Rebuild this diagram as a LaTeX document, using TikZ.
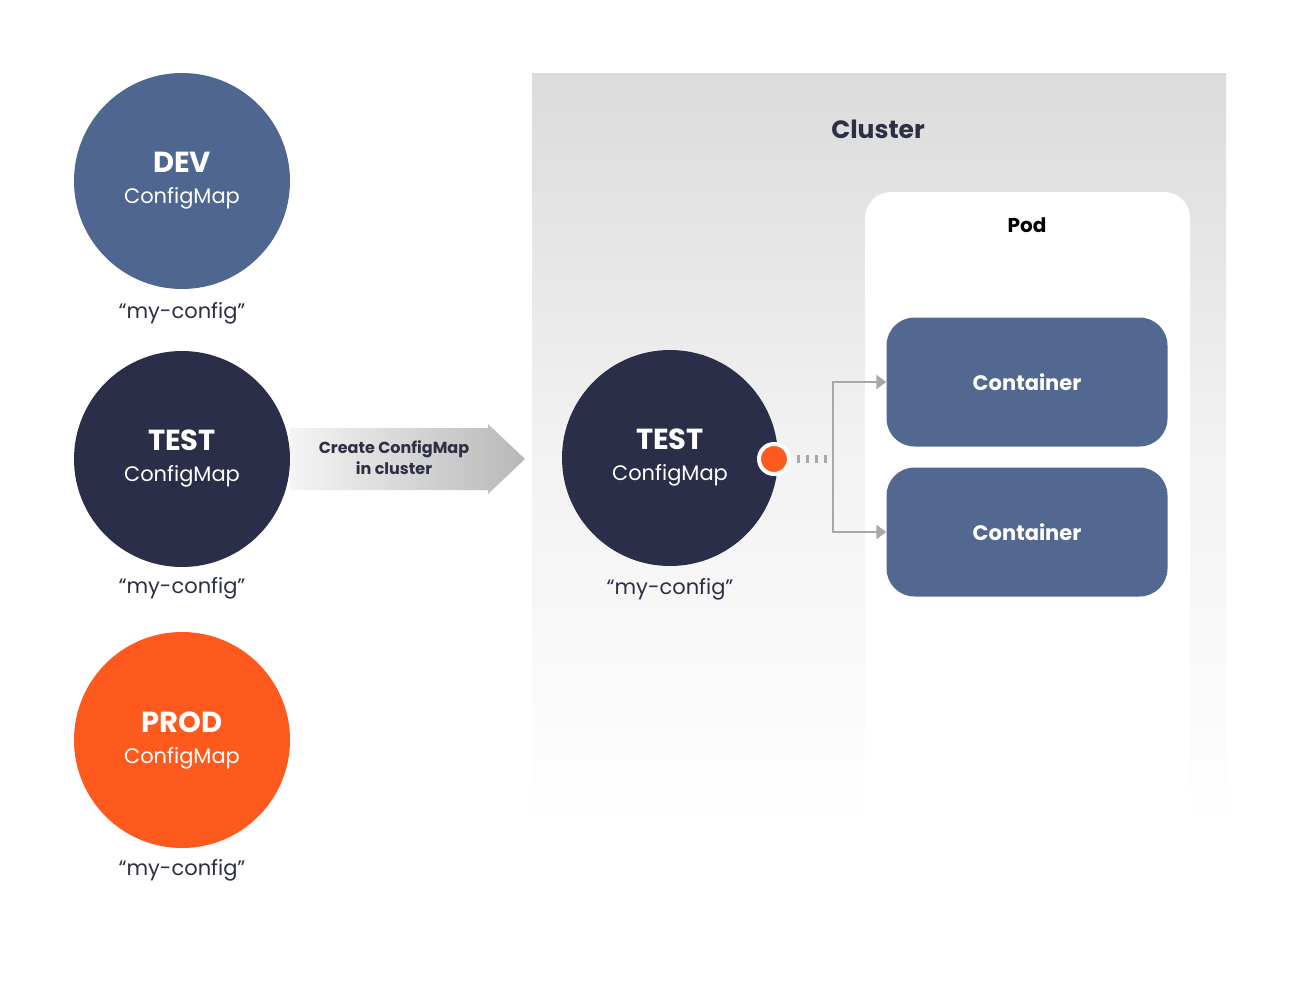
\documentclass[tikz,border=0pt]{standalone}
\usepackage{fontspec}
\setmainfont{Poppins}
\usetikzlibrary{arrows.meta}
\definecolor{navy}{HTML}{2B2E48}
\definecolor{slate}{HTML}{536891}
\definecolor{devb}{HTML}{4F6690}
\definecolor{orng}{HTML}{FE5A1D}
\definecolor{txt}{HTML}{2D2F45}
\definecolor{conn}{HTML}{A8A8A8}
\tikzset{
 cmap/.style={circle,minimum size=216pt,inner sep=0pt,text=white,align=center,font=\fontsize{21}{31}\selectfont},
 lbl/.style={font=\fontsize{21}{22}\selectfont,text=txt},
 ctr/.style={rounded corners=28pt,fill=slate,minimum width=281pt,minimum height=129pt,text=white,font=\fontsize{21}{22}\selectfont\bfseries},
 cn/.style={draw=conn,line width=2.5pt},
}
\newcommand{\cmt}[1]{{\fontsize{29}{31}\selectfont\bfseries #1}\\ConfigMap}
\begin{document}
\begin{tikzpicture}[x=1pt,y=-1pt]
\useasboundingbox (0,0) rectangle (1300,985);
\fill[white] (0,0) rectangle (1300,985);
% cluster
\shade[top color=black!14,bottom color=white,middle color=black!5] (532,73) rectangle (1226,830);
\node[font=\fontsize{25}{26}\selectfont\bfseries,text=txt] (cl) at (878,129) {Cluster};
\fill[white,rounded corners=26pt] (865,830) -- (865,192) -- (1190,192) -- (1190,830);
\fill[white] (865,220) rectangle (1190,830);
\node[font=\fontsize{20}{22}\selectfont\bfseries,text=black] (pod) at (1027,225) {Pod};
\node[ctr] (c1) at (1027,382) {Container};
\node[ctr] (c2) at (1027,532) {Container};
% circles
\node[cmap,fill=devb] (dev) at (182,181) {\cmt{DEV}};
\node[cmap,fill=navy] (test) at (182,459) {\cmt{TEST}};
\node[cmap,fill=orng] (prod) at (182,740) {\cmt{PROD}};
\node[cmap,fill=navy] (test2) at (670,458) {\cmt{TEST}};
\node[lbl] (l1) at (182,313) {“my-config”};
\node[lbl] (l2) at (182,588) {“my-config”};
\node[lbl] (l3) at (182,870) {“my-config”};
\node[lbl] (l4) at (670,589) {“my-config”};
% big arrow
\shade[left color=black!4,right color=black!28] (290,428) -- (488,428) -- (488,424) -- (525,459) -- (488,494) -- (488,490) -- (290,490) -- cycle;
\node[align=center,text=txt,font=\fontsize{16}{21}\selectfont\bfseries] (ar) at (394,458) {Create ConfigMap\\in cluster};
% dot and connectors
\node[circle,fill=orng,draw=white,line width=4pt,minimum size=30pt,inner sep=0pt] (dot) at (774,459) {};
\coordinate (j) at (833,459);
\draw[draw=conn,dash pattern=on 3pt off 6pt,line width=8pt] (797,459) -- (829,459);
\draw[cn,-{Triangle[length=10pt,width=14pt]}] (j) |- (c1.west);
\draw[cn,-{Triangle[length=10pt,width=14pt]}] (j) |- (c2.west);
\end{tikzpicture}
\end{document}
